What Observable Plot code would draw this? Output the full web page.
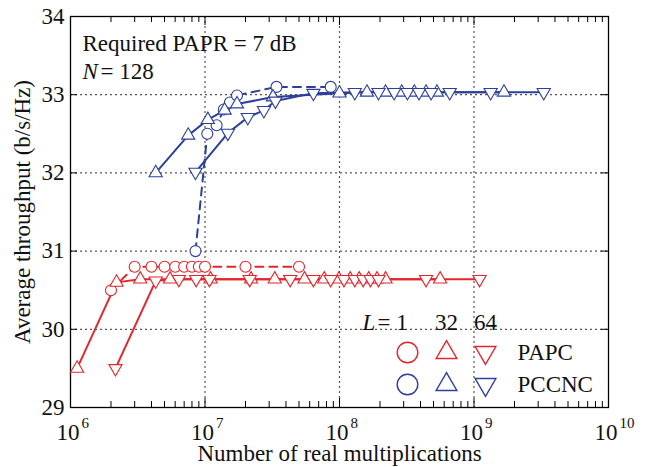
<!DOCTYPE html>
<html><head><meta charset="utf-8">
<script src="https://cdn.jsdelivr.net/npm/d3@7"></script>
<script src="https://cdn.jsdelivr.net/npm/@observablehq/plot@0.6"></script>
<style>
body{margin:0;background:#fff}
#chart svg, #chart svg text { font-family: "Liberation Serif", "DejaVu Serif", serif !important; }
</style>
</head><body><div id="chart"></div>
<script>
// ---- data ----
const papcL1x = [2e6, 3e6, 4e6, 5e6, 6e6, 7e6, 8e6, 9e6, 1e7, 2e7, 5e7];
const papcL1y = [30.5, 30.8, 30.8, 30.8, 30.8, 30.8, 30.8, 30.8, 30.8, 30.8, 30.8];
const papcL32x = [1.12e6, 2.2e6, 3.3e6, 5.5e6, 1.1e7, 2.2e7, 3.3e7, 5.5e7, 7.7e7, 9.9e7, 1.2e8, 1.4e8, 1.65e8, 1.9e8, 2.2e8, 5.6e8];
const papcL32y = [29.5, 30.6, 30.64, 30.64, 30.64, 30.64, 30.64, 30.64, 30.64, 30.64, 30.64, 30.64, 30.64, 30.64, 30.64, 30.64];
const papcL64x = [2.16e6, 4.3e6, 6.4e6, 8.6e6, 1.08e7, 2.15e7, 4.3e7, 6.4e7, 8.6e7, 1.08e8, 1.3e8, 1.5e8, 1.7e8, 1.95e8, 4.4e8, 1.1e9];
const papcL64y = [29.5, 30.62, 30.64, 30.64, 30.64, 30.64, 30.64, 30.64, 30.64, 30.64, 30.64, 30.64, 30.64, 30.64, 30.64, 30.64];
const pccncL1x = [8.5e6, 1.04e7, 1.22e7, 1.38e7, 1.53e7, 1.73e7, 3.4e7, 8.6e7];
const pccncL1y = [31.0, 32.5, 32.61, 32.81, 32.9, 32.99, 33.1, 33.1];
const pccncL32x = [4.3e6, 7.5e6, 1.05e7, 1.4e7, 1.73e7, 3.2e7, 1.0e8, 1.6e8, 2.2e8, 2.9e8, 3.6e8, 4.4e8, 5.3e8, 1.67e9];
const pccncL32y = [32.0, 32.48, 32.68, 32.8, 32.88, 32.97, 33.02, 33.03, 33.03, 33.03, 33.03, 33.03, 33.03, 33.03];
const pccncL64x = [8.5e6, 1.48e7, 2.08e7, 2.74e7, 3.34e7, 6.4e7, 1.3e8, 1.95e8, 2.55e8, 3.2e8, 3.9e8, 4.8e8, 6.6e8, 1.33e9, 3.3e9];
const pccncL64y = [32.01, 32.51, 32.71, 32.8, 32.92, 33.02, 33.03, 33.03, 33.03, 33.03, 33.03, 33.03, 33.03, 33.03, 33.03];

const xMajor = [1e6, 1e7, 1e8, 1e9, 1e10];
const xExp = ["6", "7", "8", "9", "10"];
const xMinor = [6, 7, 8, 9].flatMap(k => [2,3,4,5,6,7,8,9].map(m => m * 10 ** k));
const yTicks = [29, 30, 31, 32, 33, 34];
const xGrid = [1e7, 1e8, 1e9];
const yGrid = [30, 31, 32, 33];
const legendL = ["1", "32", "64"];
const methods = ["PAPC", "PCCNC"];

const RED = "#e1262c", BLUE = "#2c3f9a";
const series = [
  {x: papcL1x, y: papcL1y, color: RED, sym: "circle", rot: 0, dash: "8,6"},
  {x: papcL32x, y: papcL32y, color: RED, sym: "triangle", rot: 0, dash: null},
  {x: papcL64x, y: papcL64y, color: RED, sym: "triangle", rot: 180, dash: null},
  {x: pccncL1x, y: pccncL1y, color: BLUE, sym: "circle", rot: 0, dash: "8,6"},
  {x: pccncL32x, y: pccncL32y, color: BLUE, sym: "triangle", rot: 0, dash: null},
  {x: pccncL64x, y: pccncL64y, color: BLUE, sym: "triangle", rot: 180, dash: null}
];
const rows = s => s.x.map((v, i) => ({x: v, y: s.y[i]}));

const FS = 23;
const W = 646, H = 467, mL = 70, mR = 38, mT = 16, mB = 60;
const fw = W - mL - mR, fh = H - mT - mB;
const T = (data, opts) => Plot.text(data, {fontSize: FS, fill: "#111", lineAnchor: "middle", ...opts});

const marks = [
  Plot.ruleX(xGrid, {x: d => d, stroke: "#555", strokeDasharray: "2,3", strokeWidth: 1.2}),
  Plot.ruleY(yGrid, {y: d => d, stroke: "#555", strokeDasharray: "2,3", strokeWidth: 1.2}),
  Plot.tickX(xMinor, {x: d => d, insetTop: fh - 6, stroke: "#000"}),
  Plot.tickX(xMinor, {x: d => d, insetBottom: fh - 6, stroke: "#000"}),
  Plot.tickX(xMajor, {x: d => d, insetTop: fh - 9, stroke: "#000"}),
  Plot.tickX(xMajor, {x: d => d, insetBottom: fh - 9, stroke: "#000"}),
  Plot.tickY(yTicks, {y: d => d, insetRight: fw - 7, stroke: "#000"}),
  Plot.tickY(yTicks, {y: d => d, insetLeft: fw - 7, stroke: "#000"}),
  Plot.frame({stroke: "#000", strokeWidth: 1.3})
];
for (const s of series) {
  marks.push(Plot.line(rows(s), {x: "x", y: "y", stroke: s.color, strokeWidth: 2, strokeDasharray: s.dash}));
}
for (const s of series) {
  marks.push(Plot.dot(rows(s), {x: "x", y: "y", symbol: s.sym, r: s.sym === "circle" ? 5.5 : 4.9, rotate: s.rot,
    stroke: s.color, fill: "white", strokeWidth: 1.1}));
}
// tick labels and titles
marks.push(
  T(yTicks, {y: d => d, text: d => String(d), frameAnchor: "left", textAnchor: "end", dx: -6}),
  T(xMajor, {x: d => d, text: () => "10", frameAnchor: "bottom", textAnchor: "end", dy: 25, dx: 9}),
  T(xMajor, {x: d => d, text: (d, i) => xExp[i], frameAnchor: "bottom", textAnchor: "start", dy: 16, dx: 11, fontSize: 15}),
  T(["Number of real multiplications"], {frameAnchor: "bottom", textAnchor: "middle", dy: 46}),
  T(["Average throughput (b/s/Hz)"], {frameAnchor: "left", textAnchor: "middle", rotate: -90, dx: -48}),
  T(["Required PAPR = 7 dB"], {frameAnchor: "top-left", textAnchor: "start", dx: 12, dy: 27}),
  T(["N"], {frameAnchor: "top-left", textAnchor: "start", dx: 12, dy: 55, fontStyle: "italic"}),
  T(["= 128"], {frameAnchor: "top-left", textAnchor: "start", dx: 30, dy: 55})
);
// legend
const legX = [337, 376, 415];
marks.push(
  T(["L"], {frameAnchor: "top-left", textAnchor: "start", dx: 292, dy: 306, fontStyle: "italic"}),
  T(["= " + legendL[0]], {frameAnchor: "top-left", textAnchor: "start", dx: 307, dy: 306}),
  T([legendL[1]], {frameAnchor: "top-left", textAnchor: "middle", dx: legX[1], dy: 306}),
  T([legendL[2]], {frameAnchor: "top-left", textAnchor: "middle", dx: legX[2], dy: 306})
);
methods.forEach((m, j) => {
  const dy = 336 + j * 32;
  const col = j === 0 ? RED : BLUE;
  marks.push(
    Plot.dot([0], {frameAnchor: "top-left", dx: legX[0], dy, symbol: "circle", r: 10.3, stroke: col, strokeWidth: 1.4, fill: "white"}),
    Plot.dot([0], {frameAnchor: "top-left", dx: legX[1], dy, symbol: "triangle", r: 7.7, stroke: col, strokeWidth: 1.4, fill: "white"}),
    Plot.dot([0], {frameAnchor: "top-left", dx: legX[2], dy, symbol: "triangle", rotate: 180, r: 7.7, stroke: col, strokeWidth: 1.4, fill: "white"}),
    T([m], {frameAnchor: "top-left", textAnchor: "start", dx: 447, dy})
  );
});

const chart = Plot.plot({
  width: W, height: H,
  marginLeft: mL, marginRight: mR, marginTop: mT, marginBottom: mB,
  style: {fontSize: FS + "px", color: "#111", background: "#fff"},
  x: {type: "log", domain: [1e6, 1e10], axis: null},
  y: {domain: [29, 34], axis: null},
  marks
});
document.getElementById("chart").appendChild(chart);
</script></body></html>
